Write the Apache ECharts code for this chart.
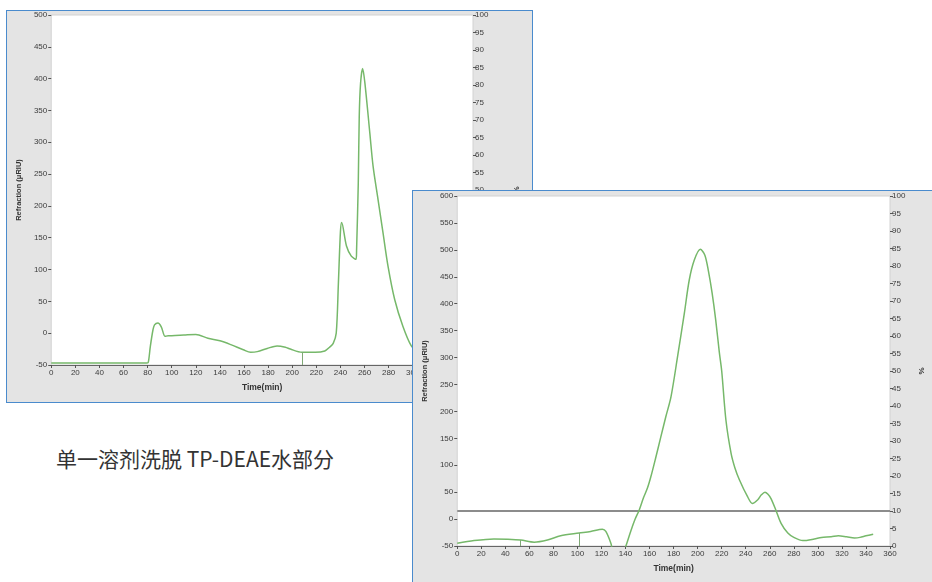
<!DOCTYPE html>
<html>
<head>
<meta charset="utf-8">
<script src="https://cdn.jsdelivr.net/npm/echarts@6/dist/echarts.min.js"></script>
<style>
  html, body { margin: 0; padding: 0; background: #ffffff; width: 932px; height: 582px; overflow: hidden; }
  .panel { position: absolute; box-sizing: border-box; border: 1px solid #4a8bcd; background: #e4e4e4; }
  .panel .plot { position: absolute; left: 0; top: 0; width: 100%; height: 100%; }
  #caption { position: absolute; left: 56px; top: 443px; line-height: 30px; font-family: "Noto Sans CJK SC", "Noto Sans", sans-serif; font-size: 21px; color: #333333; white-space: nowrap; }
</style>
</head>
<body>
<div class="panel" id="panel1" style="left:6px; top:10px; width:527px; height:393px; z-index:1;"><div class="plot" id="chart1"></div></div>
<div class="panel" id="panel2" style="left:412px; top:190px; width:540px; height:420px; z-index:2;"><div class="plot" id="chart2"></div></div>
<div id="caption">单一溶剂洗脱 TP-DEAE水部分</div>
<script>
// Run 1: elution time (min) and refractive signal (μRIU)
const run1Time = [0, 20, 40, 60, 79, 80.5, 82.2, 84.4, 85.7, 88.5, 91.3, 94.5, 97, 100, 110, 120, 130, 140, 149, 159.4, 165.5, 171, 179.2, 187.4, 194.3, 198.4, 208, 219, 227, 231, 234, 236.5, 238.3, 240, 241, 245, 249, 253, 253.4, 254.8, 255.6, 256.7, 258.4, 260.3, 264.4, 267.1, 271.2, 275.3, 279.5, 285, 291.8, 298.8, 305, 312];
const run1Signal = [-47, -47, -47, -47, -47, -46, -21, 5, 13, 16, 10, -5, -4, -4, -3, -2, -8, -12, -18, -26, -30, -29, -24, -20, -22, -25, -30, -30, -28, -22, -16, 0, 79, 160, 174, 137, 121, 116, 132, 236, 341, 393, 416, 393, 314, 262, 210, 158, 105, 53, 11, -20, -32, -38];
// fraction marker on run 1: [time, signal at marker]
const run1Markers = [[208, -30]];

// Run 2: elution time (min) and refractive signal (μRIU)
const run2Time = [0, 14, 30.5, 41.7, 52.8, 64, 75, 86, 101.4, 111, 120.8, 123.6, 127.8, 131, 137, 140.3, 144.4, 148, 151.4, 155, 158.3, 161.1, 165, 169.4, 173.5, 177.8, 183.3, 188.9, 193, 197.2, 202.2, 206, 209, 212, 215, 218, 220, 223.5, 227.8, 231, 234.7, 241.4, 245.5, 250, 253, 256, 258.5, 261, 265, 269.4, 275, 280, 287.5, 297, 303, 311, 317, 324, 330.5, 335, 340, 346];
const run2Signal = [-45, -40, -37, -37.5, -39, -43, -39, -31, -26, -23, -19, -23, -45, -70, -70, -50, -22, 0, 17, 40, 58, 79, 113, 153, 190, 227, 302, 382, 444, 481, 501, 490, 460, 420, 370, 310, 275, 184, 122, 95, 73, 42, 29, 36, 45, 50, 46, 38, 17, -8, -26, -34, -40, -37, -34, -33, -31, -33, -35, -34, -31, -28];
const run2Markers = [[52.8, -39], [101.4, -26]];
// second channel (right axis) held constant over run 2
const run2LevelTime = [0, 360];
const run2Level = [10, 10];

// axis ranges
const run1Axes = { xMax: 350, yMax: 500 };
const run2Axes = { xMax: 360, yMax: 600 };
const leftMin = -50, leftStep = 50, rightMax = 100, rightStep = 5, xStep = 20;

const labelFont = 'Liberation Sans, Arial, sans-serif';

function pairs(xs, ys) { return xs.map((x, i) => [x, ys[i]]); }

function buildOption(cfg) {
  const axisLabel = { fontSize: 8, color: '#3c3c3c', fontFamily: labelFont, margin: 4 };
  const tick = { show: true, inside: false, length: 3, lineStyle: { color: '#555', width: 1 } };
  const series = [{
    type: 'line',
    data: pairs(cfg.time, cfg.signal),
    showSymbol: false,
    smooth: 0.3,
    clip: true,
    lineStyle: { color: '#76b86a', width: 1.5 },
    z: 3,
    markLine: {
      silent: true,
      symbol: 'none',
      label: { show: false },
      lineStyle: { color: '#7fa876', width: 1, type: 'solid' },
      data: cfg.markers.map(m => [{ coord: [m[0], m[1]] }, { coord: [m[0], leftMin] }])
    }
  }];
  if (cfg.levelTime) {
    series.push({
      type: 'line',
      yAxisIndex: 1,
      data: pairs(cfg.levelTime, cfg.level),
      showSymbol: false,
      lineStyle: { color: '#8c8c8c', width: 2 },
      z: 2
    });
  }
  return {
    animation: false,
    backgroundColor: '#e4e4e4',
    grid: {
      left: cfg.grid.left, top: cfg.grid.top, width: cfg.grid.width, height: cfg.grid.height,
      show: true, backgroundColor: '#ffffff', borderColor: '#d2d2d2', borderWidth: 1
    },
    xAxis: {
      type: 'value', min: 0, max: cfg.xMax, interval: xStep,
      name: 'Time(min)', nameLocation: 'middle', nameGap: 18,
      nameTextStyle: { fontSize: 8.5, fontWeight: 'bold', color: '#333', fontFamily: labelFont },
      axisLine: { show: true, onZero: false, lineStyle: { color: '#666', width: 1 } },
      axisTick: tick, axisLabel: axisLabel, splitLine: { show: false }
    },
    yAxis: [{
      type: 'value', min: leftMin, max: cfg.yMax, interval: leftStep,
      name: 'Refraction (μRIU)', nameLocation: 'middle', nameGap: 27, nameRotate: 90,
      nameTextStyle: { fontSize: 7.5, fontWeight: 'bold', color: '#333', fontFamily: labelFont },
      axisLine: { show: false, onZero: false }, axisTick: tick, axisLabel: axisLabel, splitLine: { show: false }
    }, {
      type: 'value', position: 'right', min: 0, max: rightMax, interval: rightStep,
      name: '%', nameLocation: 'middle', nameGap: cfg.rightNameGap, nameRotate: 90,
      nameTextStyle: { fontSize: 8, fontWeight: 'bold', color: '#333', fontFamily: labelFont },
      axisLine: { show: false, onZero: false }, axisTick: tick,
      axisLabel: Object.assign({}, axisLabel, { margin: 2 }), splitLine: { show: false }
    }],
    series: series
  };
}

const chart1 = echarts.init(document.getElementById('chart1'), null, { renderer: 'canvas' });
chart1.setOption(buildOption({
  time: run1Time, signal: run1Signal, markers: run1Markers,
  xMax: run1Axes.xMax, yMax: run1Axes.yMax, rightNameGap: 40,
  grid: { left: 43, top: 4, width: 423, height: 350 }
}));

const chart2 = echarts.init(document.getElementById('chart2'), null, { renderer: 'canvas' });
chart2.setOption(buildOption({
  time: run2Time, signal: run2Signal, markers: run2Markers,
  levelTime: run2LevelTime, level: run2Level,
  xMax: run2Axes.xMax, yMax: run2Axes.yMax, rightNameGap: 28,
  grid: { left: 44, top: 5, width: 433, height: 350 }
}));
</script>
</body>
</html>
